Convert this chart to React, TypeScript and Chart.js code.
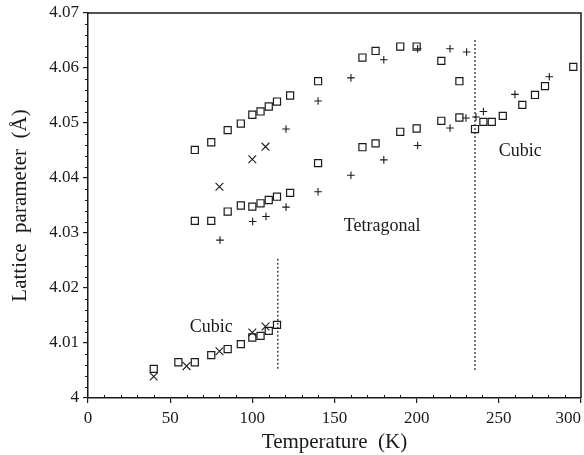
import React, { useEffect, useRef } from "react";
import { Chart, registerables } from "chart.js";

Chart.register(...registerables);

// Low-temperature cubic phase
const lowCubicSqT = [40, 55, 65, 75, 85, 93, 100, 105, 110, 115];
const lowCubicSqV = [4.0053, 4.0065, 4.0065, 4.0078, 4.0089, 4.0098, 4.011, 4.0113, 4.0122, 4.0133];
const lowCubicXT = [40, 60, 80, 100, 108];
const lowCubicXV = [4.0039, 4.0058, 4.0085, 4.0119, 4.013];

// Tetragonal phase
const tetraXT = [80, 100, 108];
const tetraXV = [4.0384, 4.0434, 4.0457];
const tetraUpSqT = [65, 75, 85, 93, 100, 105, 110, 115, 123, 140, 167, 175, 190, 200, 215, 226];
const tetraUpSqV = [4.0451, 4.0465, 4.0487, 4.0499, 4.0515, 4.0521, 4.053, 4.0539, 4.055, 4.0576, 4.0619, 4.0631, 4.0639, 4.0639, 4.0613, 4.0576];
const tetraLowSqT = [65, 75, 85, 93, 100, 105, 110, 115, 123, 140, 167, 175, 190, 200, 215, 226, 235.5];
const tetraLowSqV = [4.0322, 4.0322, 4.0339, 4.035, 4.0348, 4.0354, 4.036, 4.0366, 4.0373, 4.0427, 4.0456, 4.0463, 4.0484, 4.049, 4.0504, 4.051, 4.0489];
const tetraUpPlusT = [120.5, 140, 160, 180, 200.6, 220.3, 230.4];
const tetraUpPlusV = [4.0489, 4.054, 4.0582, 4.0615, 4.0635, 4.0635, 4.0629];
const tetraLowPlusT = [80.3, 100.2, 108.3, 120.5, 140, 160, 180, 200.6, 220.3, 230];
const tetraLowPlusV = [4.0287, 4.0321, 4.033, 4.0347, 4.0375, 4.0405, 4.0433, 4.0459, 4.0491, 4.0509];

// High-temperature cubic phase
const highCubicSqT = [240.6, 245.7, 252.4, 264.3, 272, 278.1, 295.3];
const highCubicSqV = [4.0502, 4.0502, 4.0513, 4.0533, 4.0551, 4.0567, 4.0602];
const highCubicPlusT = [236.1, 240.6, 259.8, 280.7];
const highCubicPlusV = [4.0511, 4.0521, 4.0552, 4.0584];

// Phase boundaries (dotted lines)
const boundaryLowT = [115.5, 115.5];
const boundaryLowV = [4.0253, 4.0051];
const boundaryHighT = [235.5, 235.5];
const boundaryHighV = [4.0651, 4.0051];

// Annotations
const phaseLabels = ["Cubic", "Tetragonal", "Cubic"];
const phaseLabelT = [75, 179, 263];
const phaseLabelV = [4.0129, 4.0313, 4.0448];

// Axes
const xMin = 0, xMax = 300, xStep = 50, xMinor = 10;
const yMin = 4.0, yMax = 4.07, yStep = 0.01, yMinor = 0.002;

const zip = (t: number[], v: number[]) => t.map((x, i) => ({ x, y: v[i] }));

const FONT = "'Liberation Serif', 'Times New Roman', serif";
const INK = "#1a1a1a";

export default function App() {
  const ref = useRef<HTMLCanvasElement | null>(null);

  useEffect(() => {
    if (!ref.current) return;

    const sq = (t: number[], v: number[]) => ({
      data: zip(t, v),
      pointStyle: "rect" as const,
      pointRadius: 5,
      pointBorderWidth: 1.2,
      pointBorderColor: INK,
      pointBackgroundColor: "rgba(0,0,0,0)",
      showLine: false,
    });
    const plus = (t: number[], v: number[]) => ({
      data: zip(t, v),
      pointStyle: "cross" as const,
      pointRadius: 3.8,
      pointBorderWidth: 1.1,
      pointBorderColor: INK,
      showLine: false,
    });
    const xmark = (t: number[], v: number[]) => ({
      data: zip(t, v),
      pointStyle: "crossRot" as const,
      pointRadius: 5.5,
      pointBorderWidth: 1.1,
      pointBorderColor: INK,
      showLine: false,
    });
    const dotted = (t: number[], v: number[]) => ({
      data: zip(t, v),
      showLine: true,
      borderColor: INK,
      borderWidth: 1.2,
      borderDash: [2, 2],
      pointRadius: 0,
    });

    const framePlugin = {
      id: "frame",
      afterDraw(chart: any) {
        const { ctx, chartArea: a, scales } = chart;
        const xs = scales.x, ys = scales.y;
        ctx.save();
        ctx.strokeStyle = INK;
        ctx.lineWidth = 1.5;
        ctx.beginPath();
        ctx.moveTo(a.left, a.top);
        ctx.lineTo(a.right, a.top);
        ctx.lineTo(a.right, a.bottom);
        ctx.stroke();
        // minor ticks
        ctx.lineWidth = 1;
        ctx.beginPath();
        for (let t = xMin; t <= xMax + 1e-9; t += xMinor) {
          if (Math.abs(t % xStep) < 1e-6) continue;
          const px = Math.round(xs.getPixelForValue(t)) + 0.5;
          ctx.moveTo(px, a.bottom);
          ctx.lineTo(px, a.bottom - 3);
        }
        for (let k = 0; k <= Math.round((yMax - yMin) / yMinor); k++) {
          if (k % 5 === 0) continue;
          const v = yMin + k * yMinor;
          const py = Math.round(ys.getPixelForValue(v)) + 0.5;
          ctx.moveTo(a.left, py);
          ctx.lineTo(a.left - 3, py);
        }
        ctx.stroke();
        // phase labels
        ctx.fillStyle = INK;
        ctx.font = `18px ${FONT}`;
        ctx.textAlign = "center";
        ctx.textBaseline = "middle";
        phaseLabels.forEach((s, i) => {
          ctx.fillText(s, xs.getPixelForValue(phaseLabelT[i]), ys.getPixelForValue(phaseLabelV[i]));
        });
        ctx.restore();
      },
    };

    const chart = new Chart(ref.current, {
      type: "scatter",
      data: {
        datasets: [
          dotted(boundaryLowT, boundaryLowV),
          dotted(boundaryHighT, boundaryHighV),
          sq(lowCubicSqT, lowCubicSqV),
          xmark(lowCubicXT, lowCubicXV),
          xmark(tetraXT, tetraXV),
          sq(tetraUpSqT, tetraUpSqV),
          sq(tetraLowSqT, tetraLowSqV),
          plus(tetraUpPlusT, tetraUpPlusV),
          plus(tetraLowPlusT, tetraLowPlusV),
          sq(highCubicSqT, highCubicSqV),
          plus(highCubicPlusT, highCubicPlusV),
        ] as any,
      },
      options: {
        animation: false,
        responsive: false,
        devicePixelRatio: 1,
        layout: { autoPadding: false, padding: { top: 13, right: 3, left: 0, bottom: 0 } },
        plugins: { legend: { display: false }, tooltip: { enabled: false } },
        scales: {
          x: {
            type: "linear",
            min: xMin,
            max: xMax,
            afterFit: (s: any) => { s.height = 57; s.paddingLeft = 0; s.paddingRight = 0; },
            ticks: {
              stepSize: xStep,
              color: INK,
              font: { family: FONT, size: 17 },
              padding: 5,
              maxRotation: 0,
              callback: (v: any) => (v === xMax ? `${v}\u2007\u2007\u2007` : `${v}`),
            },
            grid: { drawOnChartArea: false, drawTicks: true, tickLength: 5, color: INK, lineWidth: 1.2 },
            border: { display: true, color: INK, width: 1.5 },
            title: { display: true, text: "Temperature  (K)", color: INK, font: { family: FONT, size: 21 }, padding: { top: 0, bottom: 0 } },
          },
          y: {
            type: "linear",
            min: yMin,
            max: yMax,
            afterFit: (s: any) => { s.width = 88; s.paddingTop = 0; s.paddingBottom = 0; },
            ticks: {
              stepSize: yStep,
              color: INK,
              font: { family: FONT, size: 17 },
              padding: 4,
              callback: (v: any) => (Math.abs(v - 4) < 1e-9 ? "4" : Number(v).toFixed(2)),
            },
            grid: { drawOnChartArea: false, drawTicks: true, tickLength: 5, color: INK, lineWidth: 1.2 },
            border: { display: true, color: INK, width: 1.5 },
            title: { display: true, text: "Lattice  parameter  (Å)", color: INK, font: { family: FONT, size: 21 }, padding: { top: 8, bottom: 0 } },
          },
        },
      },
      plugins: [framePlugin],
    });
    return () => chart.destroy();
  }, []);

  return (
    <div style={{ position: "fixed", left: 0, top: 0, width: 584, height: 455, background: "#fff" }}>
      <canvas ref={ref} width={584} height={455} style={{ width: 584, height: 455, display: "block" }} />
    </div>
  );
}
